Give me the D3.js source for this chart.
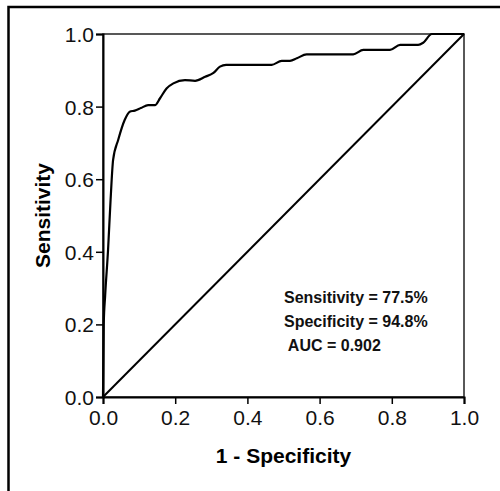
<!DOCTYPE html>
<html>
<head>
<meta charset="utf-8">
<script src="https://cdn.jsdelivr.net/npm/d3@7"></script>
<style>
  body { margin: 0; background: #fff; }
  svg { display: block; font-family: "Liberation Sans", Arial, sans-serif; }
</style>
</head>
<body>
<svg width="500" height="491"></svg>
<script>
// ROC curve points (1 - specificity, sensitivity)
var fpr = [0, 0.002, 0.006, 0.014, 0.021, 0.028, 0.042, 0.060, 0.074, 0.088, 0.105, 0.125, 0.144,
  0.158, 0.176, 0.195, 0.227, 0.255, 0.283, 0.306, 0.324, 0.341, 0.467, 0.495, 0.518, 0.537,
  0.564, 0.693, 0.721, 0.795, 0.823, 0.873, 0.887, 0.911, 1]
var tpr = [0, 0.2, 0.28, 0.405, 0.543, 0.653, 0.708, 0.763, 0.786, 0.789, 0.796, 0.804, 0.804,
  0.823, 0.850, 0.864, 0.873, 0.871, 0.882, 0.893, 0.910, 0.915, 0.915, 0.926, 0.926, 0.933,
  0.944, 0.944, 0.956, 0.956, 0.970, 0.970, 0.976, 1, 1]
var ticks = [0, 0.2, 0.4, 0.6, 0.8, 1.0]
var notes = ["Sensitivity = 77.5%", "Specificity = 94.8%", " AUC = 0.902"]

var svg = d3.select("svg")
var plotL = 103, plotT = 34, plotR = 464, plotB = 397

// outer frame (only top and left edges are visible in the crop)
svg.append("rect")
  .attr("x", 8.5).attr("y", 7)
  .attr("width", 520).attr("height", 520)
  .attr("fill", "none").attr("stroke", "#000").attr("stroke-width", 2.5)

var x = d3.scaleLinear().domain([0, 1]).range([plotL, plotR])
var y = d3.scaleLinear().domain([0, 1]).range([plotB, plotT])

// plot box
svg.append("rect")
  .attr("x", plotL).attr("y", plotT)
  .attr("width", plotR - plotL).attr("height", plotB - plotT)
  .attr("fill", "none").attr("stroke", "#222").attr("stroke-width", 1.5)

var xAxis = svg.append("g")
  .attr("transform", "translate(0," + plotB + ")")
  .call(d3.axisBottom(x).tickValues(ticks).tickFormat(d3.format(".1f")).tickSize(7).tickPadding(6))
var yAxis = svg.append("g")
  .attr("transform", "translate(" + plotL + ",0)")
  .call(d3.axisLeft(y).tickValues(ticks).tickFormat(d3.format(".1f")).tickSize(7).tickPadding(2))

;[xAxis, yAxis].forEach(function (g) {
  g.select(".domain").attr("stroke", "#000").attr("stroke-width", 2)
  g.selectAll(".tick line").attr("stroke", "#000").attr("stroke-width", 1.5)
  g.selectAll(".tick text")
    .attr("fill", "#111")
    .style("font-size", "21px")
    .style("font-family", "Liberation Sans, Arial, sans-serif")
})
yAxis.selectAll(".tick text").attr("dy", "0.36em")

// reference diagonal
svg.append("line")
  .attr("x1", x(0)).attr("y1", y(0))
  .attr("x2", x(1)).attr("y2", y(1))
  .attr("stroke", "#000").attr("stroke-width", 2)

// ROC curve
var pts = fpr.map(function (d, i) { return [d, tpr[i]] })
var line = d3.line()
  .x(function (d) { return x(d[0]) })
  .y(function (d) { return y(d[1]) })
  .curve(d3.curveMonotoneX)

svg.append("path")
  .datum(pts)
  .attr("d", line)
  .attr("fill", "none")
  .attr("stroke", "#000")
  .attr("stroke-width", 2.2)
  .attr("stroke-linejoin", "round")

// axis titles
svg.append("text")
  .attr("x", (plotL + plotR) / 2).attr("y", 463)
  .attr("text-anchor", "middle")
  .style("font-size", "21px").style("font-weight", "bold")
  .text("1 - Specificity")

svg.append("text")
  .attr("transform", "translate(50," + (plotT + plotB) / 2 + ") rotate(-90)")
  .attr("text-anchor", "middle")
  .style("font-size", "21px").style("font-weight", "bold")
  .text("Sensitivity")

// annotation
svg.append("g").selectAll("text")
  .data(notes)
  .enter().append("text")
  .attr("x", 284)
  .attr("y", function (d, i) { return 303 + i * 24 })
  .attr("xml:space", "preserve")
  .style("font-size", "16px").style("font-weight", "bold")
  .attr("fill", "#111")
  .text(function (d) { return d })
</script>
</body>
</html>
